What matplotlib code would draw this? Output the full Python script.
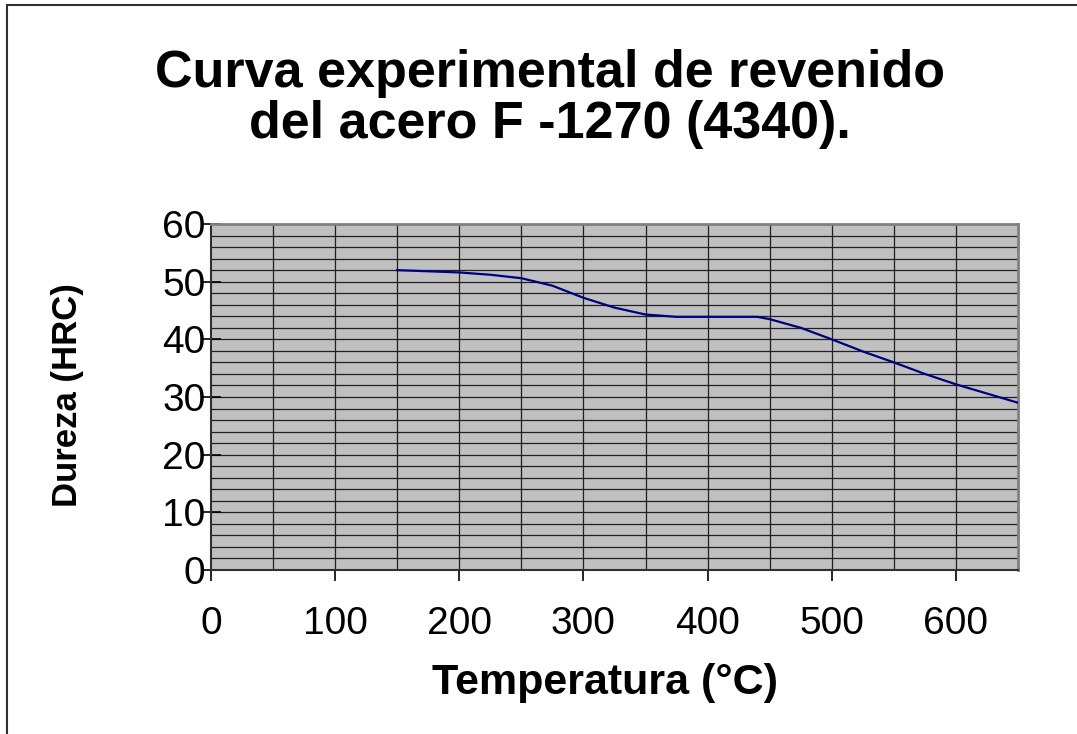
import matplotlib
matplotlib.use("Agg")
import matplotlib.pyplot as plt
from matplotlib.patches import Rectangle
import numpy as np

plt.rcParams['font.family'] = ['Liberation Sans', 'DejaVu Sans']

# Tempering curve: temperature (°C) vs hardness (HRC)
temperatura = [150, 200, 225, 250, 275, 300, 325, 350, 375, 400, 425, 440,
               450, 475, 500, 525, 550, 575, 600, 625, 650]
dureza = [52.0, 51.6, 51.2, 50.6, 49.3, 47.2, 45.5, 44.3, 43.9, 43.9, 43.9, 43.9,
          43.5, 42.0, 40.0, 37.9, 36.0, 34.0, 32.2, 30.6, 29.0]

x_ticks = [0, 100, 200, 300, 400, 500, 600]
y_ticks = [0, 10, 20, 30, 40, 50, 60]

titulo = "Curva experimental de revenido\ndel acero F -1270 (4340)."
etiqueta_x = "Temperatura (°C)"
etiqueta_y = "Dureza (HRC)"

fig = plt.figure(figsize=(10.77, 7.34), dpi=100)
fig.patch.set_facecolor('white')

# outer chart border (left and top edges visible)
fig.patches.append(Rectangle((7 / 1077, -0.2), 1.5, 1 - 5 / 734 + 0.2,
                             transform=fig.transFigure, fill=False,
                             edgecolor='#303030', linewidth=1.5))

ax = fig.add_axes([211 / 1077, 1 - 570 / 734, (1018 - 211) / 1077, (570 - 224) / 734])
ax.set_facecolor('#C0C0C0')

ax.set_xlim(0, 650)
ax.set_ylim(0, 60)

# grid: vertical every 50, horizontal every 2
for gx in np.arange(50, 650, 50):
    ax.axvline(gx, color='#202020', linewidth=0.9, zorder=1)
for gy in np.arange(2, 60, 2):
    ax.axhline(gy, color='#202020', linewidth=0.9, zorder=1)

ax.plot(temperatura, dureza, color='#000080', linewidth=1.6, zorder=3)

ax.set_xticks(x_ticks)
ax.set_yticks(y_ticks)
ax.set_xticklabels([str(v) for v in x_ticks])
ax.set_yticklabels([str(v) for v in y_ticks])
ax.tick_params(axis='x', direction='out', length=8, width=1.2, pad=18,
               labelsize=28, colors='black')
ax.tick_params(axis='y', direction='inout', length=14, width=1.2, pad=-3,
               labelsize=28, colors='black')

for side in ['left', 'bottom']:
    ax.spines[side].set_color('#303030')
    ax.spines[side].set_linewidth(1.5)
for side in ['top', 'right']:
    ax.spines[side].set_color('#808080')
    ax.spines[side].set_linewidth(2)

fig.text(550 / 1077, 1 - 99 / 734, titulo, ha='center', va='center',
         fontsize=37.5, fontweight='bold', linespacing=1.07)
fig.text(605 / 1077, 1 - 683 / 734, etiqueta_x, ha='center', va='center',
         fontsize=31, fontweight='bold')
fig.text(67 / 1077, 1 - 395 / 734, etiqueta_y, ha='center', va='center',
         rotation=90, fontsize=25, fontweight='bold')

fig.savefig('out.png', dpi=100)
